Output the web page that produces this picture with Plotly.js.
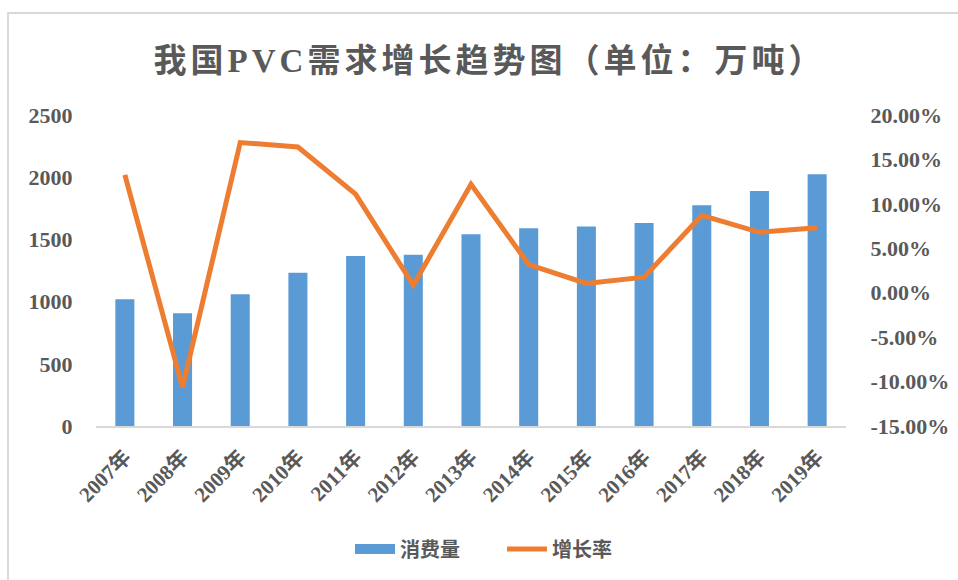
<!DOCTYPE html>
<html>
<head>
<meta charset="utf-8">
<script src="https://cdn.plot.ly/plotly-3.0.1.min.js"></script>
<style>
html,body{margin:0;padding:0;background:#fff;overflow:hidden;}
#chart{width:958px;height:580px;position:absolute;left:0;top:0;}
#frame{position:absolute;left:7px;top:12px;width:1200px;height:1200px;border-left:2px solid #d9d9d9;border-top:2px solid #d9d9d9;pointer-events:none;}
.gtitle{letter-spacing:4px;}
</style>
</head>
<body>
<div id="chart"></div>
<div id="frame"></div>
<script>
const years = ["2007年","2008年","2009年","2010年","2011年","2012年","2013年","2014年","2015年","2016年","2017年","2018年","2019年"];
const consumption = [1018, 906, 1059, 1232, 1367, 1377, 1541, 1590, 1603, 1632, 1774, 1889, 2023];
const growthRate = [0.1327, -0.1066, 0.169, 0.164, 0.111, 0.0085, 0.122, 0.0317, 0.0104, 0.0175, 0.087, 0.068, 0.073];
const yLeftTicks = [0, 500, 1000, 1500, 2000, 2500];
const yRightTicks = [-0.15, -0.10, -0.05, 0, 0.05, 0.10, 0.15, 0.20];
const yRightLabels = ["-15.00%", "-10.00%", "-5.00%", "0.00%", "5.00%", "10.00%", "15.00%", "20.00%"];

const serif = "'Liberation Serif', 'Times New Roman', 'Noto Sans CJK SC', serif";
const grey = "#595959";
const blue = "#5B9BD5";
const orange = "#ED7D31";

const traces = [
  {
    type: "bar", name: "消费量", x: years, y: consumption,
    marker: {color: blue}, width: 0.33, yaxis: "y", showlegend: false
  },
  {
    type: "scatter", mode: "lines", name: "消费量", x: [null], y: [null],
    line: {color: blue, width: 13}, yaxis: "y", hoverinfo: "skip"
  },
  {
    type: "scatter", mode: "lines", name: "增长率", x: years, y: growthRate,
    line: {color: orange, width: 5}, yaxis: "y2"
  }
];

const layout = {
  width: 958, height: 580,
  margin: {l: 96, r: 112, t: 115, b: 154},
  paper_bgcolor: "#fff", plot_bgcolor: "#fff",
  title: {
    text: "<b>我国PVC需求增长趋势图（单位：万吨）</b>",
    font: {family: serif, size: 33, color: grey},
    xref: "container", x: 0.511, xanchor: "center",
    yref: "container", y: 1 - 60/580, yanchor: "middle"
  },
  xaxis: {
    type: "category", categoryarray: years, showgrid: false, zeroline: false,
    showline: true, linecolor: "#d9d9d9", linewidth: 1.5,
    tickangle: -45, ticks: "outside", ticklen: 9, tickcolor: "rgba(0,0,0,0)",
    tickfont: {family: serif, size: 21, color: grey, weight: "bold"}
  },
  yaxis: {
    range: [0, 2500], tickvals: yLeftTicks, showgrid: false, zeroline: false,
    showline: false, ticks: "outside", ticklen: 18, tickcolor: "rgba(0,0,0,0)",
    tickfont: {family: serif, size: 22, color: grey, weight: "bold"}
  },
  yaxis2: {
    overlaying: "y", side: "right", range: [-0.15, 0.20],
    tickvals: yRightTicks, ticktext: yRightLabels,
    showgrid: false, zeroline: false, showline: false,
    ticks: "outside", ticklen: 19, tickcolor: "rgba(0,0,0,0)",
    tickfont: {family: serif, size: 22, color: grey, weight: "bold"}
  },
  legend: {
    orientation: "h", xref: "container", x: 0.524, xanchor: "center",
    yref: "container", y: 1 - 549/580, yanchor: "middle",
    font: {family: "'Noto Sans CJK SC', serif", size: 20, color: grey, weight: "bold"},
    itemwidth: 40, entrywidth: 97, traceorder: "normal"
  },
  showlegend: true,
  bargap: 0.67
};

Plotly.newPlot("chart", traces, layout, {displayModeBar: false, staticPlot: true});
</script>
</body>
</html>
